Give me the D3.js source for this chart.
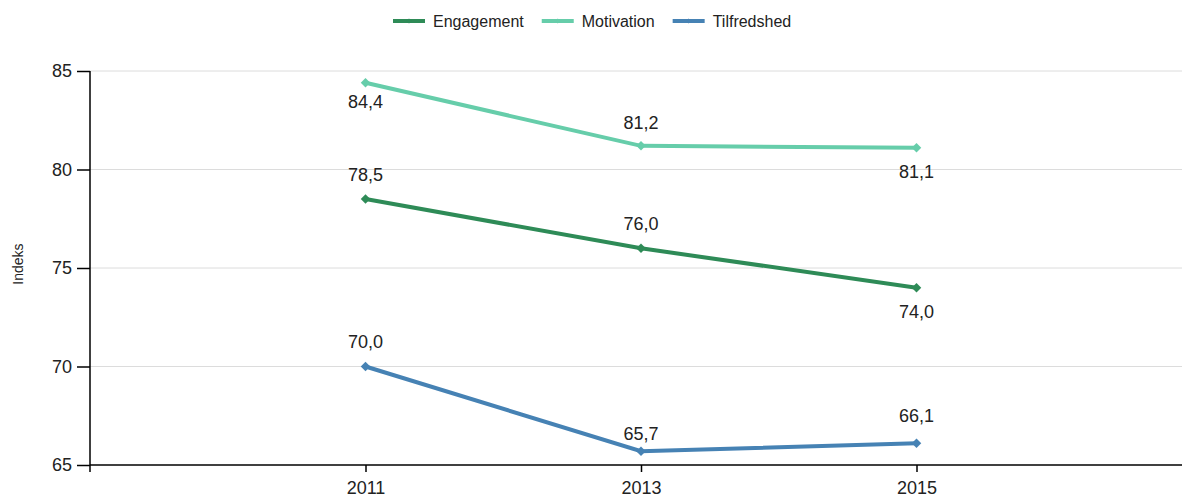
<!DOCTYPE html>
<html>
<head>
<meta charset="utf-8">
<script src="https://cdn.jsdelivr.net/npm/d3@7"></script>
<style>
  body { margin: 0; background: #fff; }
  svg { display: block; font-family: "Liberation Sans", Arial, sans-serif; }
  .grid line { stroke: #dcdcdc; stroke-width: 1; }
  .axis path, .axis line { stroke: #000; stroke-width: 1.5; }
  .axis text { font-size: 18px; fill: #222; }
  .lbl { font-size: 18px; fill: #222; }
</style>
</head>
<body>
<div class="chart"></div>
<script>
var years = ['2011', '2013', '2015'];
var seriesNames = ['Engagement', 'Motivation', 'Tilfredshed'];
var engagement = [78.5, 76.0, 74.0];
var motivation = [84.4, 81.2, 81.1];
var tilfredshed = [70.0, 65.7, 66.1];
var yTicks = [65, 70, 75, 80, 85];
var colors = ['#2e8b57', '#66cdaa', '#4682b4'];
// label offsets (baseline relative to point)
var labelDy = [[-18, -18, 30], [25, -17, 30], [-19, -11, -21]];

var width = 1182, height = 497;
var plotLeft = 90, plotTop = 71, plotBottom = 465;

var svg = d3.select('.chart').append('svg')
  .attr('width', width)
  .attr('height', height);

var x = d3.scalePoint()
  .domain(years)
  .range([plotLeft, 1192])
  .padding(1);

var y = d3.scaleLinear()
  .domain([65, 85])
  .range([plotBottom, plotTop]);

// gridlines
svg.append('g')
  .attr('class', 'grid')
  .selectAll('line')
  .data(yTicks.slice(1))
  .enter().append('line')
  .attr('x1', plotLeft).attr('x2', width)
  .attr('y1', function(d) { return y(d); })
  .attr('y2', function(d) { return y(d); });

// y axis
var yAxis = svg.append('g')
  .attr('class', 'axis')
  .attr('transform', 'translate(' + plotLeft + ',0)')
  .call(d3.axisLeft(y).tickValues(yTicks).tickSize(13).tickPadding(5).tickSizeOuter(0));
yAxis.select('.domain').attr('d', 'M0,' + plotTop + 'V' + (plotBottom + 7));

// x axis
var xAxis = svg.append('g')
  .attr('class', 'axis')
  .attr('transform', 'translate(0,' + plotBottom + ')')
  .call(d3.axisBottom(x).tickSize(7).tickPadding(9).tickSizeOuter(0));
xAxis.select('.domain').attr('d', 'M' + plotLeft + ',0H' + width);

svg.append('text')
  .attr('transform', 'translate(23,264) rotate(-90)')
  .attr('text-anchor', 'middle')
  .style('font-size', '14px')
  .style('fill', '#222')
  .text('Indeks');

var data = [engagement, motivation, tilfredshed].map(function(vals, i) {
  return {
    name: seriesNames[i],
    color: colors[i],
    points: vals.map(function(v, j) { return { year: years[j], value: v, dy: labelDy[i][j], color: colors[i] }; })
  };
});

var line = d3.line()
  .x(function(d) { return x(d.year); })
  .y(function(d) { return y(d.value); });

var diamond = d3.symbol().type(d3.symbolSquare).size(45);

var series = svg.selectAll('.series')
  .data(data)
  .enter().append('g')
  .attr('class', 'series');

series.append('path')
  .attr('d', function(d) { return line(d.points); })
  .attr('fill', 'none')
  .attr('stroke', function(d) { return d.color; })
  .attr('stroke-width', 4);

series.selectAll('.pt')
  .data(function(d) { return d.points; })
  .enter().append('path')
  .attr('class', 'pt')
  .attr('d', diamond)
  .attr('transform', function(d) { return 'translate(' + x(d.year) + ',' + y(d.value) + ') rotate(45)'; })
  .attr('fill', function(d) { return d.color; });

series.selectAll('.lbl')
  .data(function(d) { return d.points; })
  .enter().append('text')
  .attr('class', 'lbl')
  .attr('text-anchor', 'middle')
  .attr('x', function(d) { return x(d.year); })
  .attr('y', function(d) { return y(d.value) + d.dy; })
  .text(function(d) { return d3.format('.1f')(d.value).replace('.', ','); });

// legend
var legend = svg.append('g').attr('class', 'legend');
var lx = 0;
seriesNames.forEach(function(name, i) {
  var g = legend.append('g').attr('transform', 'translate(' + lx + ',0)');
  g.append('line')
    .attr('x1', 0).attr('x2', 32)
    .attr('y1', 21).attr('y2', 21)
    .attr('stroke', colors[i]).attr('stroke-width', 4);
  g.append('path')
    .attr('d', d3.symbol().type(d3.symbolSquare).size(12))
    .attr('transform', 'translate(16,21) rotate(45)')
    .attr('fill', colors[i]);
  var t = g.append('text')
    .attr('x', 40).attr('y', 27)
    .style('font-size', '16px')
    .style('fill', '#222')
    .text(name);
  lx += 40 + t.node().getComputedTextLength() + 18;
});
var lw = lx - 18;
legend.attr('transform', 'translate(' + Math.round(592 - lw / 2) + ',0)');
</script>
</body>
</html>
